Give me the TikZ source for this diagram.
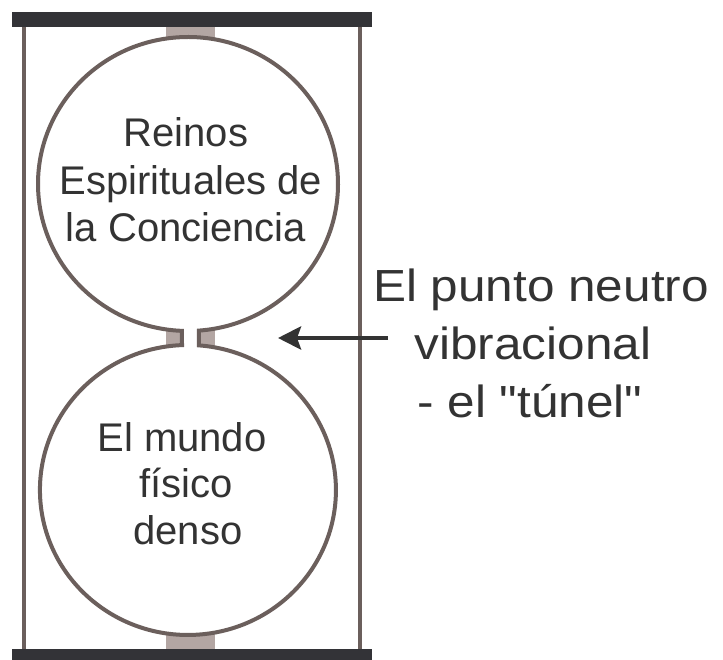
\documentclass[tikz,border=0pt]{standalone}
\usepackage{fontspec}
\setmainfont{Liberation Sans}[Ligatures=TeXOff]
\usetikzlibrary{arrows.meta}
\definecolor{bar}{HTML}{333337}
\definecolor{rim}{HTML}{6B5F5C}
\definecolor{stub}{HTML}{B3A6A3}
\definecolor{ink}{HTML}{333333}
\begin{document}
\begin{tikzpicture}[x=1pt,y=1pt,
 barbox/.style={fill=bar,draw=none},
 stubbox/.style={fill=stub,draw=none},
 post/.style={draw=rim,line width=4pt},
 bulb/.style={draw=rim,fill=white,line width=4pt},
 lefttext/.style={text=ink,font=\fontsize{40}{48}\selectfont,anchor=base,inner sep=0pt},
 righttext/.style={text=ink,font=\fontsize{45}{56}\selectfont,anchor=base,inner sep=0pt,xscale=1.1},
 pointer/.style={draw=ink,line width=4.5pt,-{Stealth[length=23pt,width=23pt,inset=4pt]}}]
\useasboundingbox (0,0) rectangle (723,659);
% posts
\draw[post] (24,632) -- (24,10);
\draw[post] (360,632) -- (360,10);
% stubs
\fill[stubbox] (166,615) rectangle (215,632);
\fill[stubbox] (166,305) rectangle (215,335);
\fill[stubbox] (166,10) rectangle (215,30);
% bulbs joined by the narrow tunnel
\draw[bulb] (188,475) ++(-85.8:150pt and 147pt)
  arc[start angle=-85.8,end angle=267.7,x radius=150pt,y radius=147pt]
  -- (182,313.9)
  arc[start angle=92.3,end angle=445.74,x radius=148pt,y radius=145pt]
  -- cycle;
% bars
\fill[barbox] (12,632) rectangle (372,647);
\fill[barbox] (12,-5) rectangle (372,10);
% texts
\node[lefttext] (t1) at (186,512) {Reinos};
\node[lefttext] (t2) at (191,464) {Espirituales de};
\node[lefttext] (t3) at (186,417) {la Conciencia};
\node[lefttext] (b1) at (182,207) {El mundo};
\node[lefttext] (b2) at (186,161) {físico};
\node[lefttext] (b3) at (188,114) {denso};
\node[righttext] (r1) at (541,357) {El punto neutro};
\node[righttext] (r2) at (533,299) {vibracional};
\node[righttext] (r3) at (530,241) {- el "túnel"};
% arrow
\coordinate (astart) at (388,321);
\coordinate (atip) at (278,321);
\draw[pointer] (astart) -- (atip);
\end{tikzpicture}
\end{document}
